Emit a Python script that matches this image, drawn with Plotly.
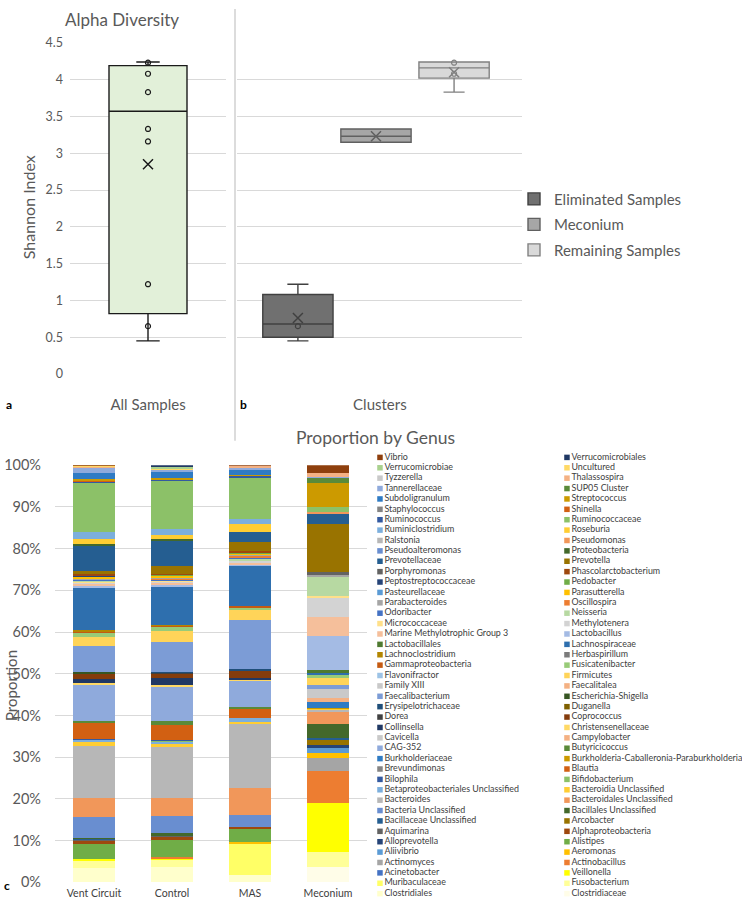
import plotly.graph_objects as go

# ---------------- Top chart: Alpha diversity ----------------
all_label = ["All Samples"]
all_q1 = [0.82]
all_median = [3.57]
all_q3 = [4.19]
all_low = [0.45]
all_high = [4.24]
all_mean = [2.85]
all_points = [0.65, 1.22, 3.16, 3.33, 3.83, 4.08, 4.23]

cluster_names = ["Eliminated Samples", "Meconium", "Remaining Samples"]
cluster_pos = [0, 1, 2]
cluster_q1 = [0.50, 3.15, 4.02]
cluster_median = [0.68, 3.23, 4.16]
cluster_q3 = [1.08, 3.33, 4.24]
cluster_low = [0.45, 3.15, 3.83]
cluster_high = [1.22, 3.33, 4.24]
cluster_mean = [0.76, 3.23, 4.10]
cluster_points = [[0.65], [], [4.08, 4.23]]
cluster_fill = ["#707070", "#A6A6A6", "#D9D9D9"]
cluster_line = ["#404040", "#606060", "#808080"]

# ---------------- Bottom chart: Proportion by genus ----------------
samples = ["Vent Circuit", "Control", "MAS", "Meconium"]

genus_names = [
    "Clostridiaceae", "Clostridiales", "Fusobacterium", "Muribaculaceae", "Veillonella",
    "Acinetobacter", "Actinobacillus", "Actinomyces", "Aeromonas", "Aliivibrio",
    "Alistipes", "Alloprevotella", "Alphaproteobacteria", "Aquimarina", "Arcobacter",
    "Bacillaceae Unclassified", "Bacillales Unclassified", "Bacteria Unclassified",
    "Bacteroidales Unclassified", "Bacteroides", "Bacteroidia Unclassified",
    "Betaproteobacteriales Unclassified", "Bifidobacterium", "Bilophila", "Blautia",
    "Brevundimonas", "Burkholderia-Caballeronia-Paraburkholderia", "Burkholderiaceae",
    "Butyricicoccus", "CAG-352", "Campylobacter", "Cavicella", "Christensenellaceae",
    "Collinsella", "Coprococcus", "Dorea", "Duganella", "Erysipelotrichaceae",
    "Escherichia-Shigella", "Faecalibacterium", "Faecalitalea", "Family XIII",
    "Firmicutes", "Flavonifractor", "Fusicatenibacter", "Gammaproteobacteria",
    "Herbaspirillum", "Lachnoclostridium", "Lachnospiraceae", "Lactobacillales",
    "Lactobacillus", "Marine Methylotrophic Group 3", "Methylotenera", "Micrococcaceae",
    "Neisseria", "Odoribacter", "Oscillospira", "Parabacteroides", "Parasutterella",
    "Pasteurellaceae", "Pedobacter", "Peptostreptococcaceae", "Phascolarctobacterium",
    "Porphyromonas", "Prevotella", "Prevotellaceae", "Proteobacteria",
    "Pseudoalteromonas", "Pseudomonas", "Ralstonia", "Roseburia", "Ruminiclostridium",
    "Ruminococcaceae", "Ruminococcus", "Shinella", "Staphylococcus", "Streptococcus",
    "Subdoligranulum", "SUP05 Cluster", "Tannerellaceae", "Thalassospira", "Tyzzerella",
    "Uncultured", "Verrucomicrobiae", "Verrucomicrobiales", "Vibrio",
]

genus_colors = [
    "#FFFDE8", "#FFFFCC", "#FFFF99", "#FFFF66", "#FFFF00",
    "#4472C4", "#ED7D31", "#A5A5A5", "#FFC000", "#5B9BD5",
    "#70AD47", "#264478", "#9E480E", "#636363", "#997300",
    "#255E91", "#43682B", "#698ED0",
    "#F1975A", "#B7B7B7", "#FFCD33",
    "#7CAFDD", "#8CC168", "#335AA1", "#D26012",
    "#848484", "#CC9A00", "#2F7BC4",
    "#5A8A39", "#8FAADC", "#F4B183", "#C9C9C9", "#FFD966",
    "#203864", "#843C0C", "#404040", "#7F6000", "#1F4E79",
    "#375623", "#7C9CD6", "#F4B183", "#C9C9C9",
    "#FFD459", "#9DC3E6", "#98CB78", "#C55A11",
    "#7B7B7B", "#B38600", "#2E6FAE", "#4E7A30",
    "#A4BBE4", "#F5BF9B", "#D3D3D3", "#FFE08A",
    "#B7D9A2", "#4472C4", "#ED7D31", "#A5A5A5", "#FFC000",
    "#5B9BD5", "#70AD47", "#264478", "#9E480E",
    "#636363", "#997300", "#255E91", "#43682B",
    "#698ED0", "#F1975A", "#B7B7B7", "#FFCD33", "#7CAFDD",
    "#8CC168", "#335AA1", "#D26012", "#848484", "#CC9A00",
    "#2F7BC4", "#5A8A39", "#8FAADC", "#F4B183", "#C9C9C9",
    "#FFD966", "#A9D18E", "#203864", "#8E3F0D",
]

# proportions (%); genera not listed are ~0
vent_circuit = {
    "Clostridiales": 3.3, "Fusobacterium": 1.9, "Veillonella": 0.3, "Alistipes": 3.7,
    "Alphaproteobacteria": 0.8, "Aquimarina": 0.1, "Bacillaceae Unclassified": 0.3,
    "Bacillales Unclassified": 0.3, "Bacteria Unclassified": 4.9,
    "Bacteroidales Unclassified": 4.6, "Bacteroides": 12.4, "Bacteroidia Unclassified": 1.1,
    "Betaproteobacteriales Unclassified": 0.4, "Bilophila": 0.3, "Blautia": 3.8,
    "Butyricicoccus": 0.4, "CAG-352": 8.7, "Christensenellaceae": 0.5, "Collinsella": 1.0,
    "Coprococcus": 1.2, "Erysipelotrichaceae": 0.1, "Escherichia-Shigella": 0.3,
    "Faecalibacterium": 6.2, "Firmicutes": 2.2, "Fusicatenibacter": 1.0,
    "Gammaproteobacteria": 0.4, "Lachnoclostridium": 0.3, "Lachnospiraceae": 10.3,
    "Lactobacillus": 0.4, "Marine Methylotrophic Group 3": 0.4, "Methylotenera": 0.3,
    "Micrococcaceae": 0.2, "Neisseria": 0.2, "Odoribacter": 0.2, "Oscillospira": 0.2,
    "Parabacteroides": 0.2, "Parasutterella": 0.4, "Pedobacter": 0.1,
    "Peptostreptococcaceae": 0.1, "Phascolarctobacterium": 0.5, "Porphyromonas": 0.1,
    "Prevotella": 0.6, "Prevotellaceae": 5.9, "Proteobacteria": 0.5, "Roseburia": 1.4,
    "Ruminiclostridium": 1.5, "Ruminococcaceae": 11.8, "Ruminococcus": 0.4,
    "Shinella": 0.2, "Streptococcus": 0.3, "Subdoligranulum": 1.6, "Tannerellaceae": 1.2,
    "Thalassospira": 0.2, "Uncultured": 0.2, "Vibrio": 0.2,
}
control = {
    "Clostridiales": 3.7, "Fusobacterium": 1.6, "Veillonella": 0.4, "Actinobacillus": 0.3,
    "Alistipes": 4.2, "Alphaproteobacteria": 0.6, "Aquimarina": 0.3,
    "Bacillales Unclassified": 0.8, "Bacteria Unclassified": 4.0,
    "Bacteroidales Unclassified": 4.2, "Bacteroides": 12.3, "Bacteroidia Unclassified": 0.8,
    "Betaproteobacteriales Unclassified": 0.5, "Bifidobacterium": 0.2, "Bilophila": 0.2,
    "Blautia": 3.7, "Butyricicoccus": 0.8, "CAG-352": 8.4, "Christensenellaceae": 0.4,
    "Collinsella": 1.5, "Coprococcus": 1.2, "Dorea": 0.2, "Erysipelotrichaceae": 0.2,
    "Faecalibacterium": 7.2, "Firmicutes": 2.6, "Fusicatenibacter": 0.9,
    "Gammaproteobacteria": 0.2, "Herbaspirillum": 0.1, "Lachnoclostridium": 0.2,
    "Lachnospiraceae": 9.0, "Lactobacillus": 0.5, "Marine Methylotrophic Group 3": 0.6,
    "Methylotenera": 0.3, "Micrococcaceae": 0.2, "Neisseria": 0.1, "Odoribacter": 0.2,
    "Oscillospira": 0.2, "Parabacteroides": 0.3, "Parasutterella": 0.4,
    "Pasteurellaceae": 0.1, "Pedobacter": 0.1, "Phascolarctobacterium": 0.3,
    "Prevotella": 1.9, "Prevotellaceae": 6.0, "Proteobacteria": 0.3, "Roseburia": 1.0,
    "Ruminiclostridium": 1.4, "Ruminococcaceae": 11.6, "Ruminococcus": 0.4,
    "Streptococcus": 0.4, "Subdoligranulum": 1.3, "Tannerellaceae": 0.7,
    "Uncultured": 0.1, "Verrucomicrobiae": 0.4, "Verrucomicrobiales": 0.5,
}
mas = {
    "Clostridiales": 1.8, "Muribaculaceae": 7.5, "Aeromonas": 0.3, "Alistipes": 3.2,
    "Alphaproteobacteria": 0.4, "Bacteria Unclassified": 2.9,
    "Bacteroidales Unclassified": 6.5, "Bacteroides": 15.4, "Bacteroidia Unclassified": 0.5,
    "Betaproteobacteriales Unclassified": 1.0, "Blautia": 2.1, "Butyricicoccus": 0.4,
    "CAG-352": 6.3, "Christensenellaceae": 0.3, "Collinsella": 0.4, "Coprococcus": 1.6,
    "Erysipelotrichaceae": 0.5, "Faecalibacterium": 11.9, "Firmicutes": 2.4,
    "Fusicatenibacter": 0.5, "Gammaproteobacteria": 0.4, "Lachnospiraceae": 9.5,
    "Lactobacillus": 0.4, "Marine Methylotrophic Group 3": 0.4, "Methylotenera": 0.4,
    "Micrococcaceae": 0.2, "Neisseria": 0.4, "Odoribacter": 0.3, "Oscillospira": 0.3,
    "Parabacteroides": 0.3, "Parasutterella": 0.2, "Pasteurellaceae": 0.1,
    "Pedobacter": 0.1, "Phascolarctobacterium": 0.5, "Prevotella": 2.2,
    "Prevotellaceae": 2.4, "Roseburia": 2.0, "Ruminiclostridium": 1.1,
    "Ruminococcaceae": 9.9, "Ruminococcus": 0.4, "Streptococcus": 0.3,
    "Subdoligranulum": 1.3, "Tannerellaceae": 0.4, "Thalassospira": 0.4, "Vibrio": 0.2,
}
meconium = {
    "Clostridiaceae": 3.7, "Fusobacterium": 3.6, "Veillonella": 11.8, "Actinobacillus": 7.5,
    "Actinomyces": 3.2, "Aeromonas": 1.3, "Aliivibrio": 1.0, "Alloprevotella": 0.8,
    "Alphaproteobacteria": 0.1, "Arcobacter": 1.2, "Bacillaceae Unclassified": 0.4,
    "Bacillales Unclassified": 3.4, "Bacteroidales Unclassified": 2.8, "Bacteroides": 0.6,
    "Bacteroidia Unclassified": 0.3, "Burkholderia-Caballeronia-Paraburkholderia": 0.2,
    "Burkholderiaceae": 1.3, "Campylobacter": 0.9, "Cavicella": 2.3,
    "Faecalibacterium": 1.0, "Firmicutes": 1.5, "Fusicatenibacter": 0.7,
    "Lachnospiraceae": 0.6, "Lactobacillales": 0.7, "Lactobacillus": 8.2,
    "Marine Methylotrophic Group 3": 4.6, "Methylotenera": 4.6, "Micrococcaceae": 0.4,
    "Neisseria": 4.4, "Parabacteroides": 0.5, "Porphyromonas": 0.7, "Prevotella": 11.7,
    "Prevotellaceae": 2.4, "Pseudomonas": 0.3, "Ruminococcaceae": 1.4,
    "Streptococcus": 5.7, "SUP05 Cluster": 1.1, "Tannerellaceae": 0.3,
    "Thalassospira": 1.0, "Vibrio": 1.8,
}
sample_tables = [vent_circuit, control, mas, meconium]

W, H = 742, 903
def px_x(p):
    return p / W
def px_y(p):
    return max(0.0, min(1.0, 1 - p / H))

GRID = "#D9D9D9"
TXT = "#595959"
FONT = "Lato"

fig = go.Figure()

# Panel a box
fig.add_trace(go.Box(
    x=all_label, q1=all_q1, median=all_median, q3=all_q3,
    lowerfence=all_low, upperfence=all_high,
    width=0.5, whiskerwidth=0.3,
    fillcolor="#E2F0D9", line=dict(color="#1A1A1A", width=1.4),
    showlegend=False, xaxis="x", yaxis="y", hoverinfo="skip",
))
fig.add_trace(go.Scatter(
    x=all_label * len(all_points), y=all_points, mode="markers",
    marker=dict(symbol="circle-open", size=5, color="#1A1A1A", line=dict(width=1.2)),
    showlegend=False, xaxis="x", yaxis="y",
))
fig.add_trace(go.Scatter(
    x=all_label, y=all_mean, mode="markers",
    marker=dict(symbol="x-thin", size=10, line=dict(width=1.5, color="#1A1A1A")),
    showlegend=False, xaxis="x", yaxis="y",
))

# Panel b boxes
for i, name in enumerate(cluster_names):
    fig.add_trace(go.Box(
        x=[cluster_pos[i]], q1=[cluster_q1[i]], median=[cluster_median[i]],
        q3=[cluster_q3[i]], lowerfence=[cluster_low[i]], upperfence=[cluster_high[i]],
        width=0.9, whiskerwidth=0.3, name=name, legendgroup=name,
        fillcolor=cluster_fill[i], line=dict(color=cluster_line[i], width=1.4),
        xaxis="x2", yaxis="y2", hoverinfo="skip",
    ))
    pts = cluster_points[i]
    if pts:
        fig.add_trace(go.Scatter(
            x=[cluster_pos[i]] * len(pts), y=pts, mode="markers",
            marker=dict(symbol="circle-open", size=5, color=cluster_line[i], line=dict(width=1.2)),
            showlegend=False, xaxis="x2", yaxis="y2",
        ))
    fig.add_trace(go.Scatter(
        x=[cluster_pos[i]], y=[cluster_mean[i]], mode="markers",
        marker=dict(symbol="x-thin", size=10, line=dict(width=1.5, color=cluster_line[i])),
        showlegend=False, xaxis="x2", yaxis="y2",
    ))

# Stacked bars
for name, color in zip(genus_names, genus_colors):
    fig.add_trace(go.Bar(
        x=samples, y=[t.get(name, 0) for t in sample_tables], name=name,
        marker=dict(color=color, line=dict(width=0)),
        showlegend=False, xaxis="x3", yaxis="y3",
    ))

# Custom two-column legend for genera (row-major, reversed order)
legend_names = list(reversed(genus_names))
legend_colors = list(reversed(genus_colors))
fig.add_trace(go.Scatter(
    x=[k % 2 for k in range(len(legend_names))],
    y=[k // 2 for k in range(len(legend_names))],
    mode="markers+text", text=legend_names, textposition="middle right",
    textfont=dict(family=FONT, size=8.9, color="#404040"),
    marker=dict(symbol="square", size=5.5, color=legend_colors, line=dict(width=0)),
    showlegend=False, xaxis="x4", yaxis="y4", cliponaxis=False, hoverinfo="skip",
))

axis_common = dict(showline=False, zeroline=False, ticks="")
fig.update_layout(
    width=W, height=H, margin=dict(l=0, r=0, t=0, b=0),
    paper_bgcolor="white", plot_bgcolor="white",
    font=dict(family=FONT, color=TXT),
    barmode="stack", barnorm="percent", bargap=0.45,
    xaxis=dict(domain=[px_x(70), px_x(226)], type="category", range=[-0.5, 0.5],
               showgrid=False, tickfont=dict(size=15, color=TXT), ticklabelstandoff=20,
               anchor="y", **axis_common),
    yaxis=dict(domain=[px_y(372), px_y(34.5)], range=[0, 4.5], dtick=0.5,
               gridcolor=GRID, gridwidth=1.2, tickfont=dict(size=12.5, color=TXT),
               ticklabelstandoff=6, anchor="x", **axis_common),
    xaxis2=dict(domain=[px_x(237), px_x(522)], range=[-0.78, 2.87],
                tickvals=[1.05], ticktext=["Clusters"], showgrid=False,
                tickfont=dict(size=15, color=TXT), ticklabelstandoff=20,
                anchor="y2", **axis_common),
    yaxis2=dict(domain=[px_y(372), px_y(34.5)], range=[0, 4.5], dtick=0.5,
                gridcolor=GRID, gridwidth=1.2, showticklabels=False, anchor="x2",
                **axis_common),
    xaxis3=dict(domain=[px_x(55), px_x(367)], type="category", showgrid=False,
                tickfont=dict(size=10.5, color="#404040"), ticklabelstandoff=3,
                anchor="y3", **axis_common),
    yaxis3=dict(domain=[px_y(890), px_y(465)], range=[0, 100], dtick=10,
                ticksuffix="%", gridcolor=GRID, gridwidth=1.2,
                tickfont=dict(size=14.5, color=TXT), ticklabelstandoff=13,
                anchor="x3", **axis_common),
    xaxis4=dict(domain=[0.5, 1.0], range=[-0.048, 1.936], visible=False, anchor="y4"),
    yaxis4=dict(domain=[px_y(903), px_y(450)], range=[42.13, -0.661], visible=False,
                anchor="x4"),
    legend=dict(x=px_x(514), y=px_y(177), xanchor="left", yanchor="top",
                font=dict(family=FONT, size=15, color=TXT), bgcolor="rgba(0,0,0,0)",
                tracegroupgap=3, itemclick=False),
    shapes=[dict(type="line", xref="paper", yref="paper",
                 x0=px_x(235), x1=px_x(235), y0=px_y(440), y1=px_y(0),
                 line=dict(color="#D0D0D0", width=1.5))],
    annotations=[
        dict(text="Alpha Diversity", x=px_x(63), y=px_y(11), xref="paper", yref="paper",
             xanchor="left", yanchor="middle", showarrow=False,
             font=dict(size=17, color=TXT)),
        dict(text="Shannon Index", x=px_x(28), y=px_y(202), xref="paper", yref="paper",
             xanchor="center", yanchor="middle",
             textangle=-90, showarrow=False, font=dict(size=16, color=TXT)),
        dict(text="Proportion by Genus", x=px_x(376), y=px_y(437), xref="paper",
             yref="paper", xanchor="center", yanchor="middle",
             showarrow=False, font=dict(size=17.5, color=TXT)),
        dict(text="Proportion", x=px_x(11), y=px_y(690), xref="paper", yref="paper",
             xanchor="center", yanchor="middle",
             textangle=-90, showarrow=False, font=dict(size=15, color=TXT)),
        dict(text="<b>a</b>", x=px_x(9), y=px_y(403), xref="paper", yref="paper",
             xanchor="center", yanchor="middle",
             showarrow=False, font=dict(size=12, color="#000000")),
        dict(text="<b>b</b>", x=px_x(243), y=px_y(403), xref="paper", yref="paper",
             xanchor="center", yanchor="middle",
             showarrow=False, font=dict(size=12, color="#000000")),
        dict(text="<b>c</b>", x=px_x(7), y=0, xref="paper", yref="paper",
             xanchor="center", yanchor="bottom",
             showarrow=False, font=dict(size=12, color="#000000")),
    ],
)

fig.write_html(
    "out.html",
    config={"displayModeBar": False},
    post_script="document.body.style.margin='0';document.body.style.overflow='hidden';",
)
